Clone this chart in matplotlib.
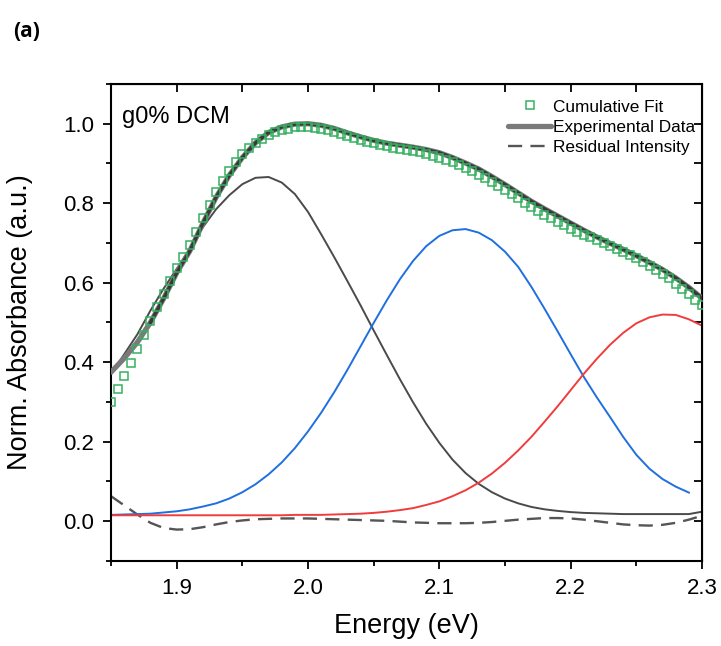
import numpy as np
import matplotlib
matplotlib.use("Agg")
import matplotlib.pyplot as plt
from matplotlib.ticker import MultipleLocator

plt.rcParams['font.family'] = ['Liberation Sans', 'DejaVu Sans']

# energy grid for the lines (eV)
energy = [1.85, 1.86, 1.87, 1.88, 1.89, 1.90, 1.91, 1.92, 1.93, 1.94,
          1.95, 1.96, 1.97, 1.98, 1.99, 2.00, 2.01, 2.02, 2.03, 2.04,
          2.05, 2.06, 2.07, 2.08, 2.09, 2.10, 2.11, 2.12, 2.13, 2.14,
          2.15, 2.16, 2.17, 2.18, 2.19, 2.20, 2.21, 2.22, 2.23, 2.24,
          2.25, 2.26, 2.27, 2.28, 2.29, 2.30]

experimental = [0.375, 0.41, 0.45, 0.50, 0.56, 0.625, 0.68, 0.75, 0.815, 0.87,
                0.915, 0.952, 0.978, 0.992, 0.999, 1.000, 0.996, 0.988, 0.977, 0.967,
                0.958, 0.951, 0.946, 0.941, 0.935, 0.927, 0.915, 0.901, 0.886, 0.867,
                0.847, 0.826, 0.805, 0.786, 0.768, 0.750, 0.732, 0.715, 0.699, 0.684,
                0.668, 0.651, 0.633, 0.612, 0.588, 0.561]

peak1 = [0.37, 0.42, 0.47, 0.53, 0.585, 0.635, 0.685, 0.74, 0.785, 0.82,
         0.848, 0.864, 0.866, 0.852, 0.823, 0.778, 0.722, 0.664, 0.604, 0.543,
         0.480, 0.418, 0.357, 0.299, 0.245, 0.197, 0.155, 0.121, 0.094, 0.073,
         0.057, 0.045, 0.036, 0.030, 0.026, 0.023, 0.021, 0.020, 0.019, 0.018,
         0.018, 0.018, 0.018, 0.018, 0.018, 0.024]

# blue peak stops just before 2.30
peak2 = [0.016, 0.017, 0.018, 0.019, 0.022, 0.025, 0.030, 0.037, 0.045, 0.057,
         0.073, 0.093, 0.118, 0.148, 0.184, 0.226, 0.273, 0.325, 0.381, 0.440,
         0.499, 0.556, 0.609, 0.655, 0.692, 0.718, 0.732, 0.735, 0.726, 0.707,
         0.678, 0.640, 0.590, 0.535, 0.478, 0.420, 0.363, 0.311, 0.262, 0.212,
         0.167, 0.132, 0.106, 0.087, 0.072]

peak3 = [0.015, 0.015, 0.015, 0.015, 0.015, 0.015, 0.015, 0.015, 0.015, 0.015,
         0.015, 0.015, 0.015, 0.015, 0.016, 0.016, 0.016, 0.017, 0.018, 0.019,
         0.021, 0.024, 0.028, 0.033, 0.041, 0.050, 0.063, 0.078, 0.097, 0.120,
         0.147, 0.178, 0.212, 0.250, 0.289, 0.330, 0.371, 0.409, 0.444, 0.474,
         0.498, 0.513, 0.520, 0.519, 0.508, 0.492]

residual = [0.063, 0.04, 0.017, -0.004, -0.017, -0.021, -0.020, -0.015, -0.008, -0.002,
            0.002, 0.005, 0.006, 0.007, 0.007, 0.007, 0.006, 0.005, 0.004, 0.003,
            0.002, 0.001, -0.001, -0.003, -0.004, -0.005, -0.005, -0.005, -0.004, -0.002,
            0.001, 0.004, 0.006, 0.008, 0.008, 0.007, 0.004, 0.000, -0.004, -0.008,
            -0.010, -0.011, -0.009, -0.004, 0.004, 0.014]

# cumulative fit points, every 0.005 eV
fit_energy = [1.850, 1.855, 1.860, 1.865, 1.870, 1.875, 1.880, 1.885, 1.890, 1.895,
              1.900, 1.905, 1.910, 1.915, 1.920, 1.925, 1.930, 1.935, 1.940, 1.945,
              1.950, 1.955, 1.960, 1.965, 1.970, 1.975, 1.980, 1.985, 1.990, 1.995,
              2.000, 2.005, 2.010, 2.015, 2.020, 2.025, 2.030, 2.035, 2.040, 2.045,
              2.050, 2.055, 2.060, 2.065, 2.070, 2.075, 2.080, 2.085, 2.090, 2.095,
              2.100, 2.105, 2.110, 2.115, 2.120, 2.125, 2.130, 2.135, 2.140, 2.145,
              2.150, 2.155, 2.160, 2.165, 2.170, 2.175, 2.180, 2.185, 2.190, 2.195,
              2.200, 2.205, 2.210, 2.215, 2.220, 2.225, 2.230, 2.235, 2.240, 2.245,
              2.250, 2.255, 2.260, 2.265, 2.270, 2.275, 2.280, 2.285, 2.290, 2.295,
              2.300]
cumulative = [0.300, 0.333, 0.365, 0.398, 0.433, 0.469, 0.504, 0.539, 0.572, 0.604,
              0.637, 0.665, 0.694, 0.727, 0.762, 0.795, 0.827, 0.856, 0.882, 0.904,
              0.923, 0.939, 0.952, 0.962, 0.971, 0.978, 0.984, 0.988, 0.991, 0.992,
              0.992, 0.990, 0.988, 0.984, 0.980, 0.975, 0.970, 0.965, 0.960, 0.955,
              0.951, 0.947, 0.944, 0.940, 0.937, 0.934, 0.931, 0.928, 0.924, 0.920,
              0.915, 0.909, 0.903, 0.896, 0.889, 0.881, 0.872, 0.863, 0.853, 0.843,
              0.833, 0.822, 0.812, 0.801, 0.791, 0.781, 0.771, 0.762, 0.753, 0.744,
              0.736, 0.728, 0.721, 0.714, 0.707, 0.700, 0.692, 0.685, 0.677, 0.669,
              0.661, 0.652, 0.643, 0.633, 0.622, 0.611, 0.598, 0.585, 0.571, 0.557,
              0.545]

fig = plt.figure(figsize=(7.21, 6.46), dpi=100)
ax = fig.add_axes([0.154, 0.1316, 0.8197, 0.7384])

ax.plot(energy, experimental, color='#7a7a7a', lw=3.8, solid_capstyle='round',
        zorder=3, label='Experimental Data')
# darker core where the fit squares sit on the data line
ax.plot(energy[3:], experimental[3:], color='#2e2e2e', lw=2.4, alpha=0.85,
        zorder=4)
ax.plot(fit_energy, cumulative, ls='none', marker='s', ms=6.2, mfc='none',
        mec='#35b060', mew=1.1, zorder=5, label='Cumulative Fit')
ax.plot(energy, residual, color='#555555', lw=1.7, dashes=(6, 3.5), zorder=2,
        label='Residual Intensity')
ax.plot(energy, peak1, color='#4a4a4a', lw=1.4, zorder=2)
ax.plot(energy[:-1], peak2, color='#1f6fe0', lw=1.4, zorder=2)
ax.plot(energy, peak3, color='#f03c3c', lw=1.4, zorder=2)

ax.set_xlim(1.85, 2.3)
ax.set_ylim(-0.1, 1.1)
ax.xaxis.set_major_locator(MultipleLocator(0.1))
ax.xaxis.set_minor_locator(MultipleLocator(0.05))
ax.yaxis.set_major_locator(MultipleLocator(0.2))
ax.yaxis.set_minor_locator(MultipleLocator(0.1))
ax.tick_params(which='major', direction='out', length=6, width=1.3,
               labelsize=16, pad=6)
ax.tick_params(which='minor', direction='out', length=3.5, width=1.3)
for sp in ax.spines.values():
    sp.set_linewidth(1.5)

# inward ticks on top and right
top = ax.secondary_xaxis('top')
top.xaxis.set_major_locator(MultipleLocator(0.05))
top.tick_params(direction='in', length=6, width=1.3, labeltop=False)
right = ax.secondary_yaxis('right')
right.yaxis.set_major_locator(MultipleLocator(0.1))
right.tick_params(direction='in', length=6, width=1.3, labelright=False)

ax.set_xlabel('Energy (eV)', fontsize=19.5)
ax.set_ylabel('Norm. Absorbance (a.u.)', fontsize=19.5)
ax.xaxis.set_label_coords(0.5, -0.11)
ax.yaxis.set_label_coords(-0.132, 0.5)

ax.text(0.019, 0.918, 'g0% DCM', transform=ax.transAxes, fontsize=17,
        va='baseline', ha='left')

h, l = ax.get_legend_handles_labels()
order = [1, 0, 2]
ax.legend([h[i] for i in order], [l[i] for i in order], loc='upper right',
          bbox_to_anchor=(1.0, 0.982), frameon=False, fontsize=12.4,
          handlelength=2.5, handletextpad=0.1, labelspacing=0.3,
          borderaxespad=0.2, borderpad=0.2, numpoints=1)

fig.text(0.018, 0.942, '(a)', fontsize=15, fontweight='bold',
         family=['Open Sans', 'DejaVu Sans'])

fig.savefig('out.png', dpi=100)
